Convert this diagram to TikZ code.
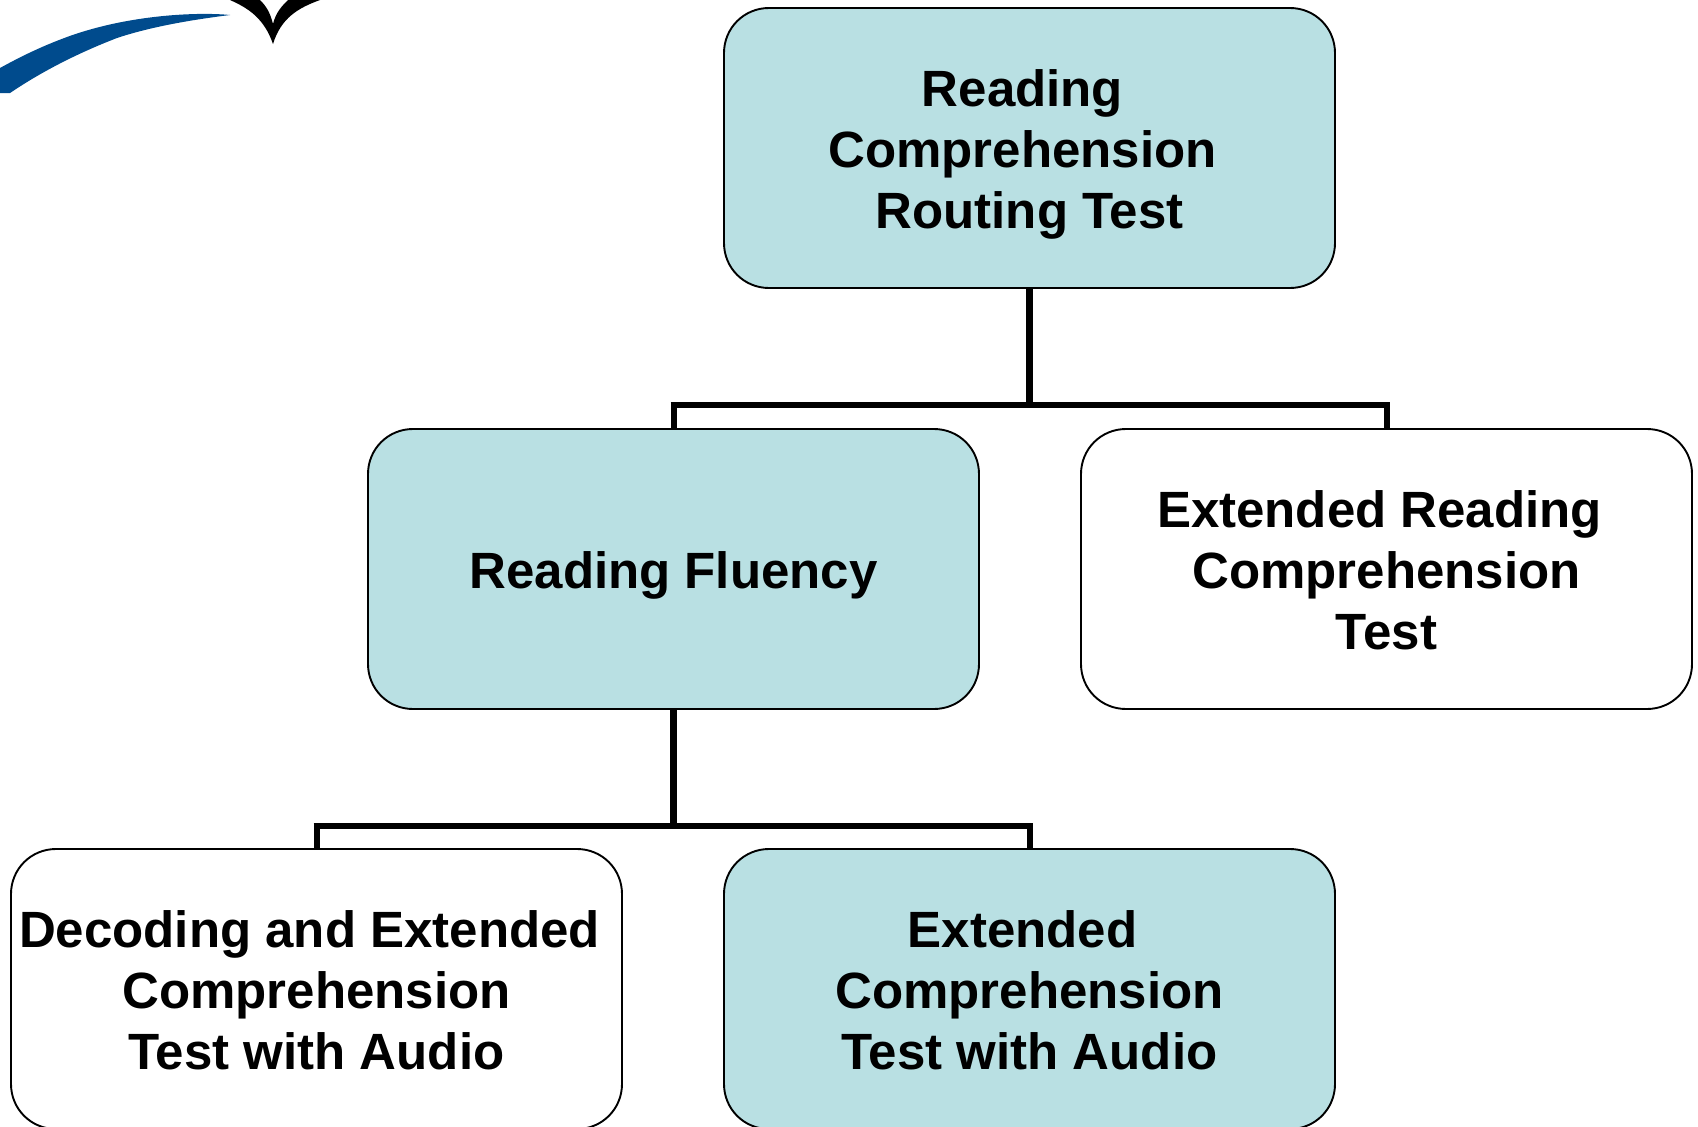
\documentclass[tikz,border=0pt]{standalone}
\usepackage{fontspec}
\setmainfont{Liberation Sans}
\definecolor{boxteal}{HTML}{B9E0E3}
\definecolor{swooshblue}{HTML}{004B8D}
\tikzset{
  x=1pt,y=-1pt,
  boxlabel/.style={inner sep=0pt,outer sep=0pt,minimum width=611pt,minimum height=280pt,align=center,
    font=\fontsize{51}{61}\selectfont\bfseries},
  boxoutline/.style={draw=black,line width=1.9pt},
  trunk/.style={draw=black,line width=6.2pt},
  bus/.style={draw=black,line width=6pt,line join=miter},
  drop/.style={draw=black,line width=6pt}
}
% #1 name, #2 left, #3 top, #4 fill, #5 text
\newcommand{\tbox}[5]{%
  \path[boxoutline,fill=#4]
    (#2+45,#3) -- (#2+566,#3)
    .. controls (#2+591,#3) and (#2+611,#3+20) .. (#2+611,#3+45)
    -- (#2+611,#3+235)
    .. controls (#2+611,#3+260) and (#2+591,#3+280) .. (#2+566,#3+280)
    -- (#2+45,#3+280)
    .. controls (#2+20,#3+280) and (#2,#3+260) .. (#2,#3+235)
    -- (#2,#3+45)
    .. controls (#2,#3+20) and (#2+20,#3) .. (#2+45,#3) -- cycle;
  \node[boxlabel] (#1) at (#2+305.5,#3+140) {\rule{0pt}{50pt}#5\vphantom{g}};
}
\begin{document}
\begin{tikzpicture}
\useasboundingbox (0,0) rectangle (1698,1127);
% logo fragments
\fill[swooshblue] (230,15) .. controls (200,12) and (130,14) .. (67,37)
  .. controls (40,47) and (20,57) .. (0,68) -- (0,93) -- (10,93)
  .. controls (25,83) and (60,60) .. (117,38) .. controls (150,27) and (190,20) .. (230,15) -- cycle;
\fill[black] (230,0) .. controls (248,8) and (264,18) .. (273,44)
  .. controls (281,18) and (298,8) .. (320,0) -- (288,0)
  .. controls (282,6) and (276,12) .. (273,24)
  .. controls (270,12) and (266,6) .. (260,0) -- cycle;
% boxes
\tbox{top}{724}{8}{boxteal}{Reading\kern14pt\\Comprehension\kern14pt\\Routing Test}
\tbox{fluency}{368}{429}{boxteal}{Reading Fluency}
\tbox{extread}{1081}{429}{white}{Extended Reading\kern14pt\\Comprehension\\Test}
\tbox{decoding}{11}{849}{white}{Decoding and Extended\kern14pt\\Comprehension\\Test with Audio}
\tbox{extcomp}{724}{849}{boxteal}{Extended\kern14pt\\Comprehension\\Test with Audio}
% connectors
\coordinate (j1) at (top.south |- 0,405);
\coordinate (j2) at (fluency.south |- 0,826);
\draw[trunk] (top.south) -- ([yshift=-3pt]j1);
\draw[drop] (fluency.north) -- (fluency.north |- j1);
\draw[drop] (extread.north) -- (extread.north |- j1);
\draw[bus] ([xshift=-3pt]fluency.north |- j1) -- ([xshift=3pt]extread.north |- j1);
\draw[trunk] (fluency.south) -- ([yshift=-3pt]j2);
\draw[drop] (decoding.north) -- (decoding.north |- j2);
\draw[drop] (extcomp.north) -- (extcomp.north |- j2);
\draw[bus] ([xshift=-3pt]decoding.north |- j2) -- ([xshift=3pt]extcomp.north |- j2);
\end{tikzpicture}
\end{document}
